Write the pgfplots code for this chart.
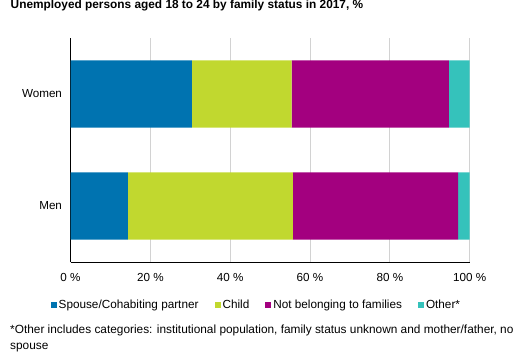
\documentclass[border=0pt]{standalone}
\usepackage{pgfplots}
\pgfplotsset{compat=1.18}
\usepackage{fontspec}
\setmainfont{Liberation Sans}
\definecolor{cBlue}{HTML}{0073B0}
\definecolor{cLime}{HTML}{C1D82F}
\definecolor{cMag}{HTML}{A3007F}
\definecolor{cTeal}{HTML}{35C2BB}
\definecolor{cGrid}{HTML}{D2D2D2}
\begin{document}
\begin{tikzpicture}[x=1bp,y=1bp]
\useasboundingbox (0,0) rectangle (526,354);
\node[anchor=base west,inner sep=0pt,font=\fontsize{11.9}{13}\selectfont\bfseries] at (10.5,345.5) {Unemployed persons aged 18 to 24 by family status in 2017, \%};
\begin{axis}[
  at={(70.5bp,92bp)}, anchor=south west,
  scale only axis, width=399.2bp, height=224bp,
  xbar stacked, bar width=0.6,
  xmin=0, xmax=100, ymin=-0.5, ymax=1.5,
  ytick={0,1}, yticklabels={Men,Women},
  xtick={0,20,40,60,80,100},
  xticklabel={\pgfmathprintnumber{\tick}~\%},
  /pgf/number format/assume math mode=true,
  tick label style={font=\fontsize{11.7}{13}\selectfont},
  major tick length=0pt,
  xticklabel style={yshift=-8bp},
  yticklabel style={xshift=-5bp},
  axis x line*=bottom, axis y line*=left,
  axis line style={black, line width=0.8bp},
  xmajorgrids, grid style={cGrid, line width=0.8bp},
  legend style={draw=none, at={(0.4655,-0.19)}, anchor=center,
    font=\fontsize{11.8}{13}\selectfont, legend columns=4,
    /tikz/every even column/.append style={column sep=14bp},
    inner sep=0pt},
  legend cell align=left,
  legend image code/.code={\fill[#1] (0bp,-3bp) rectangle (6bp,3bp);},
  every axis plot/.append style={draw=none},
]
\addplot[fill=cBlue] coordinates {(14.4,0) (30.4,1)};
\addplot[fill=cLime] coordinates {(41.3,0) (25.0,1)};
\addplot[fill=cMag] coordinates {(41.4,0) (39.4,1)};
\addplot[fill=cTeal] coordinates {(2.9,0) (5.2,1)};
\legend{Spouse/Cohabiting partner, Child, Not belonging to families, Other*}
\end{axis}
\node[anchor=north west,inner sep=0pt,align=left,font=\fontsize{11.9}{16}\selectfont] at (10,29) {*Other includes categories: institutional population, family status unknown and mother/father, no\\spouse};
\end{tikzpicture}
\end{document}
